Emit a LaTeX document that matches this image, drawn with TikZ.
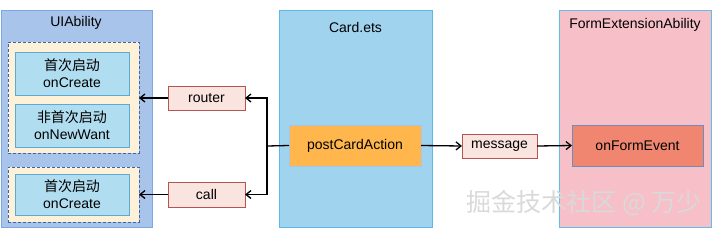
\documentclass[tikz,border=0pt]{standalone}
\usepackage{fontspec}
\setmainfont{Liberation Sans}
\newfontfamily\cjk{Noto Sans CJK SC}
\usetikzlibrary{arrows.meta}
\definecolor{uiFill}{HTML}{A9C4EB}
\definecolor{uiLine}{HTML}{7EA6E0}
\definecolor{dashFill}{HTML}{FDF2D8}
\definecolor{dashLine}{HTML}{3D64A8}
\definecolor{inFill}{HTML}{B1DDF0}
\definecolor{inLine}{HTML}{5DA9D6}
\definecolor{lblFill}{HTML}{FAE4E0}
\definecolor{lblLine}{HTML}{B85450}
\definecolor{cardFill}{HTML}{A0D3EE}
\definecolor{cardLine}{HTML}{5CB8E8}
\definecolor{postFill}{HTML}{FFB74D}
\definecolor{postLine}{HTML}{A9C4EB}
\definecolor{formFill}{HTML}{F7BFC8}
\definecolor{formLine}{HTML}{5CC0EB}
\definecolor{evFill}{HTML}{F08670}
\definecolor{evLine}{HTML}{6C8EBF}
\tikzset{
  box/.style={rectangle, inner sep=0pt, outer sep=0pt, line width=1pt},
  container/.style={box, anchor=north west},
  dashbox/.style={box, anchor=north west, draw=dashLine, fill=dashFill, dashed, dash pattern=on 3pt off 2pt},
  inbox/.style={box, anchor=north west, draw=inLine, fill=inFill, align=center, font=\fontsize{14}{17}\selectfont},
  lbl/.style={box, draw=lblLine, fill=lblFill, font=\fontsize{14}{17}\selectfont},
  title/.style={font=\fontsize{14}{17}\selectfont},
  arr/.style={line width=1.3pt, -{Straight Barb[length=5pt,width=8pt,line width=1.3pt]}},
  ln/.style={line width=1.3pt}
}
\begin{document}
\begin{tikzpicture}[x=1pt,y=-1pt]
\useasboundingbox (0,0) rectangle (713,228);
% UIAbility
\node[container, draw=uiLine, fill=uiFill, minimum width=151pt, minimum height=217pt] (ui) at (1,10) {};
\node[title] (uit) at (76,23) {UIAbility};
\node[dashbox, minimum width=131pt, minimum height=111pt] (d1) at (8,42) {};
\node[inbox, minimum width=114pt, minimum height=43pt] (c1) at (15,52) {{\cjk 首次启动}\\onCreate};
\node[inbox, minimum width=114pt, minimum height=43pt] (c2) at (15,104) {{\cjk 非首次启动}\\onNewWant};
\node[dashbox, minimum width=131pt, minimum height=55pt] (d2) at (8,167) {};
\node[inbox, minimum width=114pt, minimum height=41pt] (c3) at (15,174) {{\cjk 首次启动}\\onCreate};
% labels
\node[lbl, minimum width=77pt, minimum height=24pt] (router) at (206.5,98) {router};
\node[lbl, minimum width=77pt, minimum height=25pt] (call) at (206.5,194.5) {call};
% Card.ets
\node[container, draw=cardLine, fill=cardFill, minimum width=153pt, minimum height=217pt] (card) at (279,10) {};
\node[title] (cardt) at (355.5,27) {Card.ets};
\node[box, draw=postLine, fill=postFill, minimum width=132pt, minimum height=41pt, title] (post) at (355,145.5) {postCardAction};
% message
\node[lbl, minimum width=75pt, minimum height=24pt] (msg) at (499.5,146) {message};
% FormExtensionAbility
\node[container, draw=formLine, fill=formFill, minimum width=152pt, minimum height=217pt] (form) at (559,10) {};
\node[title] (formt) at (635,25) {FormExtensionAbility};
\node[box, draw=evLine, fill=evFill, minimum width=131pt, minimum height=41pt, title] (ev) at (637.5,145.5) {onFormEvent};
% connectors
\coordinate (j) at (267,146);
\draw[ln] (post.west) -- (j);
\draw[arr] (j) |- (router.east);
\draw[arr] (j) |- (call.east);
\draw[arr] (router.west) -- (d1.east |- router.west);
\draw[arr] (call.west) -- (d2.east |- call.west);
\draw[arr] (post.east) -- (msg.west);
\draw[arr] (msg.east) -- (ev.west);
% watermark
\node[text=white!70!gray, font=\cjk\fontsize{25}{28}\selectfont] (wm) at (584,203) {掘金技术社区 @ 万少};
\end{tikzpicture}
\end{document}
